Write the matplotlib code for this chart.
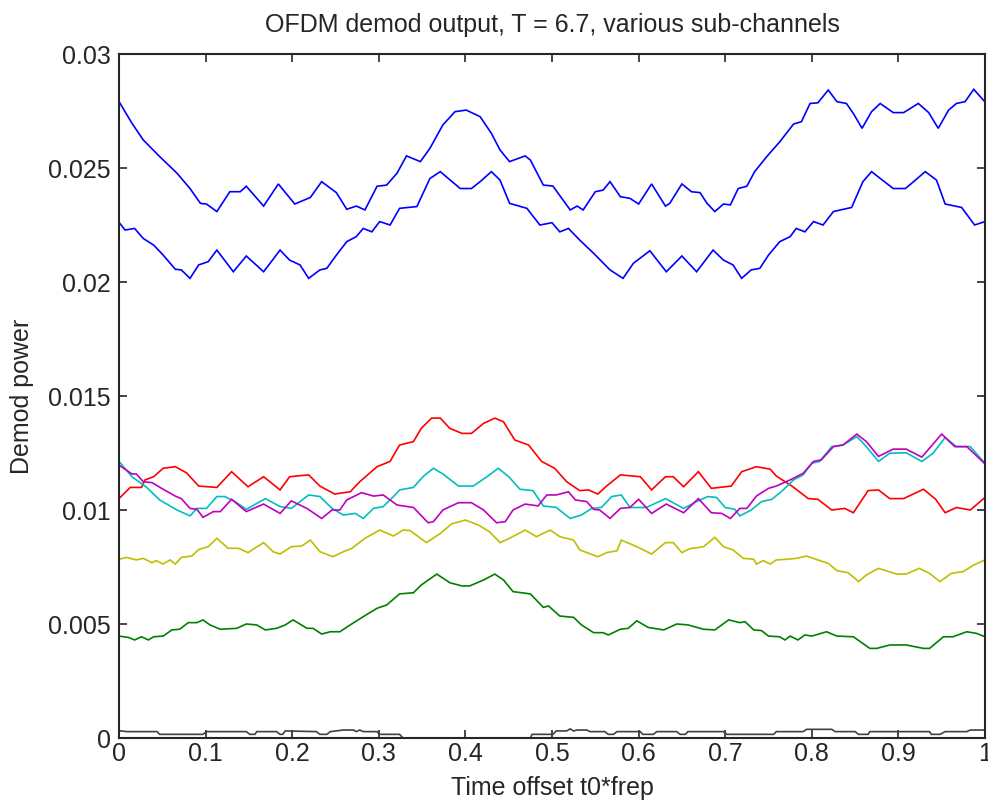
import matplotlib
matplotlib.use("Agg")
import matplotlib.pyplot as plt

plt.rcParams['font.family'] = ['Liberation Sans', 'DejaVu Sans']

title = "OFDM demod output, T = 6.7, various sub-channels"
xlabel = "Time offset t0*frep"
ylabel = "Demod power"
xticks = [0, 0.1, 0.2, 0.3, 0.4, 0.5, 0.6, 0.7, 0.8, 0.9, 1.0]
xticklabels = ["0", "0.1", "0.2", "0.3", "0.4", "0.5", "0.6", "0.7", "0.8", "0.9", "1"]
yticks = [0, 0.005, 0.01, 0.015, 0.02, 0.025, 0.03]
yticklabels = ["0", "0.005", "0.01", "0.015", "0.02", "0.025", "0.03"]

blue1_x = [0.001,0.015,0.028,0.047,0.067,0.082,0.094,0.101,0.113,0.128,0.140,0.147,0.167,0.184,0.203,0.221,0.234,0.251,0.263,0.274,0.284,0.298,0.309,0.321,0.332,0.348,0.359,0.374,0.388,0.401,0.417,0.430,0.440,0.451,0.469,0.475,0.490,0.501,0.521,0.529,0.536,0.550,0.559,0.567,0.579,0.590,0.600,0.615,0.631,0.636,0.650,0.661,0.671,0.679,0.688,0.698,0.706,0.715,0.725,0.734,0.748,0.763,0.779,0.788,0.798,0.807,0.819,0.829,0.840,0.848,0.858,0.869,0.879,0.894,0.906,0.923,0.935,0.946,0.958,0.967,0.977,0.987,1.0]
blue1_y = [0.02785,0.02696,0.02623,0.0255,0.02477,0.0241,0.02345,0.02342,0.02309,0.02396,0.02396,0.0242,0.02333,0.0243,0.02342,0.02371,0.0244,0.02392,0.02319,0.02333,0.02316,0.0242,0.02425,0.02477,0.02553,0.02528,0.02586,0.02689,0.02747,0.02754,0.02725,0.02652,0.02579,0.02528,0.02553,0.02535,0.02425,0.02421,0.02316,0.02333,0.02316,0.02396,0.02403,0.0244,0.02374,0.02367,0.02342,0.0243,0.02333,0.02345,0.0243,0.02396,0.02392,0.02345,0.02309,0.02342,0.02338,0.0241,0.0242,0.02484,0.0255,0.02615,0.02693,0.02703,0.02783,0.02786,0.02842,0.02791,0.02783,0.02739,0.02674,0.02747,0.02783,0.02743,0.02743,0.02783,0.02743,0.02674,0.02754,0.02783,0.02791,0.02845,0.0279]

blue2_x = [0.001,0.007,0.018,0.028,0.040,0.051,0.065,0.072,0.082,0.092,0.103,0.113,0.132,0.147,0.167,0.186,0.197,0.209,0.219,0.232,0.240,0.251,0.263,0.274,0.282,0.292,0.301,0.313,0.324,0.344,0.359,0.371,0.394,0.407,0.417,0.430,0.440,0.451,0.471,0.486,0.500,0.509,0.519,0.532,0.548,0.567,0.582,0.594,0.613,0.632,0.650,0.667,0.686,0.698,0.709,0.719,0.730,0.740,0.750,0.763,0.775,0.782,0.792,0.802,0.813,0.825,0.846,0.859,0.869,0.894,0.908,0.915,0.931,0.944,0.954,0.973,0.988,1.0]
blue2_y = [0.02257,0.02228,0.02235,0.02191,0.02162,0.02118,0.02056,0.02053,0.02016,0.02075,0.02089,0.0214,0.02045,0.02114,0.02045,0.0214,0.02096,0.02075,0.02016,0.02053,0.0206,0.02118,0.02177,0.02199,0.02235,0.0222,0.02265,0.0225,0.02323,0.02331,0.02454,0.02484,0.0241,0.0241,0.0244,0.02484,0.02447,0.02345,0.02323,0.0225,0.0226,0.0222,0.02235,0.02184,0.02126,0.02053,0.02016,0.02082,0.02137,0.02045,0.02114,0.02045,0.0214,0.02096,0.02075,0.02016,0.02053,0.0206,0.02118,0.02177,0.02199,0.02235,0.0222,0.02265,0.0225,0.02309,0.02327,0.0244,0.02484,0.0241,0.0241,0.02432,0.02484,0.02447,0.02342,0.02327,0.0225,0.02265]

red_x = [0.0,0.013,0.026,0.030,0.040,0.051,0.065,0.078,0.092,0.113,0.130,0.149,0.167,0.186,0.197,0.219,0.232,0.249,0.267,0.278,0.298,0.313,0.324,0.340,0.349,0.361,0.371,0.382,0.396,0.407,0.421,0.434,0.444,0.457,0.473,0.488,0.503,0.517,0.532,0.542,0.553,0.563,0.579,0.602,0.615,0.631,0.640,0.652,0.669,0.684,0.707,0.719,0.736,0.752,0.759,0.777,0.796,0.807,0.823,0.838,0.848,0.865,0.877,0.890,0.906,0.929,0.943,0.954,0.967,0.983,1.0]
red_y = [0.0105,0.01099,0.01099,0.01132,0.01146,0.01183,0.0119,0.01163,0.01105,0.01099,0.01168,0.01102,0.01146,0.01088,0.01146,0.01154,0.01105,0.0107,0.0108,0.01124,0.0119,0.01213,0.01285,0.013,0.01358,0.01403,0.01403,0.01358,0.01336,0.01336,0.0138,0.01403,0.01387,0.01307,0.01285,0.01213,0.01183,0.01124,0.01085,0.01088,0.0107,0.01105,0.01154,0.01146,0.01088,0.01146,0.01146,0.01102,0.01168,0.01095,0.01105,0.01168,0.0119,0.01179,0.01149,0.01105,0.0105,0.01047,0.01,0.01007,0.00988,0.01085,0.01088,0.0105,0.0105,0.01091,0.01047,0.00988,0.01011,0.01,0.01055]

cyan_x = [0.0,0.015,0.032,0.047,0.067,0.082,0.090,0.101,0.113,0.122,0.134,0.147,0.169,0.186,0.199,0.219,0.232,0.246,0.259,0.273,0.282,0.294,0.305,0.317,0.324,0.340,0.351,0.363,0.374,0.392,0.409,0.425,0.438,0.450,0.463,0.478,0.490,0.505,0.521,0.534,0.546,0.557,0.569,0.580,0.590,0.609,0.631,0.652,0.667,0.680,0.690,0.700,0.711,0.717,0.730,0.742,0.754,0.767,0.779,0.790,0.800,0.809,0.823,0.836,0.852,0.863,0.877,0.890,0.909,0.927,0.940,0.954,0.967,0.983,1.0]
cyan_y = [0.01213,0.01146,0.01099,0.01044,0.01,0.00974,0.01007,0.01007,0.01059,0.01059,0.01037,0.01003,0.0105,0.01015,0.01007,0.01066,0.01059,0.01007,0.00978,0.00985,0.00963,0.01007,0.01015,0.01059,0.01088,0.01099,0.01146,0.01183,0.01158,0.01105,0.01105,0.01146,0.01183,0.01146,0.01091,0.01085,0.01018,0.01011,0.00963,0.00978,0.01007,0.01011,0.01059,0.01066,0.01011,0.01011,0.0105,0.01007,0.01037,0.01059,0.01055,0.01011,0.01003,0.00974,0.01,0.01037,0.01047,0.01088,0.01132,0.01154,0.01205,0.01213,0.01278,0.01285,0.01322,0.01278,0.01213,0.01249,0.01251,0.01213,0.01249,0.01318,0.01278,0.01278,0.01205]

magenta_x = [0.0,0.015,0.020,0.028,0.038,0.051,0.065,0.072,0.082,0.090,0.097,0.109,0.117,0.130,0.147,0.167,0.186,0.199,0.217,0.234,0.246,0.255,0.263,0.280,0.294,0.305,0.321,0.340,0.357,0.363,0.374,0.392,0.407,0.421,0.436,0.446,0.455,0.469,0.484,0.494,0.505,0.519,0.527,0.540,0.548,0.555,0.567,0.579,0.590,0.600,0.615,0.632,0.652,0.669,0.684,0.696,0.706,0.717,0.725,0.736,0.750,0.759,0.775,0.790,0.802,0.811,0.825,0.836,0.852,0.863,0.877,0.894,0.909,0.927,0.950,0.965,0.979,1.0]
magenta_y = [0.01197,0.01158,0.01158,0.01124,0.0112,0.01091,0.01061,0.0105,0.01007,0.01003,0.00968,0.00993,0.00993,0.01047,0.00993,0.01026,0.00985,0.0104,0.01007,0.00963,0.01,0.01,0.01044,0.01076,0.01061,0.01066,0.01022,0.01011,0.00944,0.00949,0.01,0.01032,0.01032,0.01,0.00944,0.00949,0.01,0.01026,0.01018,0.01066,0.01066,0.0108,0.01044,0.01037,0.01003,0.01,0.00963,0.01007,0.01011,0.01047,0.00985,0.01026,0.00988,0.0105,0.00988,0.00985,0.00963,0.01007,0.01007,0.01061,0.01095,0.01105,0.01132,0.01161,0.01213,0.0122,0.01278,0.01285,0.01333,0.013,0.01235,0.01267,0.01267,0.01232,0.01333,0.01278,0.01278,0.01202]

yellow_x = [0.0,0.009,0.020,0.028,0.038,0.043,0.051,0.059,0.065,0.072,0.084,0.092,0.103,0.113,0.126,0.138,0.149,0.167,0.178,0.186,0.199,0.211,0.221,0.232,0.247,0.259,0.269,0.284,0.301,0.317,0.328,0.336,0.355,0.371,0.384,0.400,0.415,0.428,0.440,0.451,0.469,0.482,0.498,0.509,0.525,0.532,0.553,0.563,0.575,0.580,0.598,0.615,0.631,0.640,0.650,0.659,0.675,0.688,0.698,0.709,0.721,0.733,0.736,0.744,0.752,0.759,0.771,0.782,0.794,0.807,0.819,0.829,0.842,0.854,0.863,0.877,0.898,0.909,0.924,0.936,0.948,0.961,0.975,0.987,1.0]
yellow_y = [0.00784,0.00792,0.00781,0.00788,0.00769,0.00778,0.00763,0.00781,0.00763,0.00792,0.00798,0.00827,0.00839,0.00876,0.00832,0.00832,0.00813,0.00857,0.00817,0.00807,0.00839,0.00842,0.00868,0.00817,0.00795,0.00817,0.00832,0.00876,0.00912,0.00886,0.00912,0.0091,0.00857,0.00897,0.00939,0.00956,0.00934,0.00904,0.00857,0.00876,0.00912,0.00883,0.00912,0.00883,0.00868,0.00825,0.00795,0.00813,0.00821,0.00868,0.00839,0.00807,0.00857,0.00857,0.00813,0.0083,0.00839,0.0088,0.00839,0.00825,0.00788,0.00784,0.00763,0.00778,0.00763,0.00781,0.00784,0.00788,0.00798,0.00781,0.00766,0.00734,0.00725,0.00686,0.00715,0.00744,0.00719,0.00719,0.00744,0.00722,0.00686,0.00722,0.0073,0.00759,0.00781]

green_x = [0.0,0.011,0.018,0.026,0.034,0.040,0.051,0.061,0.070,0.080,0.090,0.097,0.105,0.117,0.136,0.147,0.159,0.169,0.182,0.192,0.201,0.217,0.224,0.234,0.244,0.255,0.267,0.282,0.298,0.309,0.324,0.340,0.349,0.367,0.382,0.396,0.405,0.421,0.434,0.444,0.455,0.475,0.490,0.496,0.509,0.525,0.534,0.548,0.559,0.565,0.579,0.588,0.598,0.611,0.629,0.644,0.657,0.675,0.688,0.704,0.717,0.723,0.733,0.742,0.750,0.763,0.769,0.775,0.784,0.792,0.800,0.817,0.829,0.848,0.867,0.875,0.890,0.909,0.929,0.936,0.952,0.963,0.979,0.990,1.0]
green_y = [0.00447,0.00441,0.0043,0.00444,0.0043,0.00444,0.00447,0.00474,0.00477,0.00506,0.00506,0.00518,0.00496,0.00477,0.00481,0.005,0.00496,0.00474,0.00481,0.00496,0.00518,0.00481,0.00481,0.00456,0.00466,0.00466,0.00496,0.00532,0.00569,0.00583,0.00632,0.00637,0.00671,0.00719,0.00681,0.00667,0.00667,0.00693,0.00719,0.00693,0.00642,0.00632,0.00573,0.00579,0.00535,0.00529,0.00496,0.00462,0.00462,0.00452,0.00477,0.00481,0.00514,0.00485,0.00474,0.005,0.00496,0.00477,0.00474,0.00518,0.00506,0.0051,0.00474,0.00471,0.00447,0.00444,0.0043,0.00447,0.0043,0.00452,0.00447,0.00466,0.00447,0.00444,0.00393,0.00393,0.00408,0.00408,0.00393,0.00393,0.00444,0.00444,0.00466,0.00459,0.00444]

gray_x = [0.0,0.009,0.044,0.047,0.097,0.101,0.147,0.151,0.157,0.159,0.182,0.186,0.189,0.192,0.228,0.232,0.240,0.244,0.259,0.271,0.274,0.278,0.282,0.298,0.301,0.324,0.328,0.475,0.477,0.501,0.505,0.517,0.521,0.525,0.529,0.540,0.544,0.561,0.565,0.571,0.575,0.602,0.605,0.617,0.621,0.644,0.648,0.654,0.657,0.698,0.702,0.756,0.759,0.790,0.794,0.823,0.827,0.850,0.854,0.865,0.867,0.936,0.938,0.948,0.954,0.979,0.983,1.0]
gray_y = [0.00032,0.00028,0.00028,0.00016,0.00016,0.00028,0.00028,0.00016,0.00016,0.00028,0.00028,0.00016,0.00016,0.00031,0.00028,0.00016,0.00016,0.00028,0.00035,0.00035,0.00028,0.00035,0.00028,0.00028,0.00016,0.00016,0.0,0.0,0.00016,0.00016,0.00031,0.00031,0.0004,0.00031,0.00035,0.00035,0.00028,0.00028,0.00016,0.00016,0.00028,0.00028,0.00016,0.00016,0.00028,0.00028,0.00016,0.00016,0.00028,0.00028,0.00016,0.00016,0.00028,0.00028,0.00038,0.00038,0.00028,0.00028,0.00016,0.00016,0.00028,0.00028,0.00016,0.00016,0.00028,0.00028,0.00035,0.00035]

series = [
    (blue1_x, blue1_y, (0, 0, 1)),
    (green_x, green_y, (0, 0.5, 0)),
    (red_x, red_y, (1, 0, 0)),
    (cyan_x, cyan_y, (0, 0.75, 0.75)),
    (magenta_x, magenta_y, (0.75, 0, 0.75)),
    (yellow_x, yellow_y, (0.75, 0.75, 0)),
    (gray_x, gray_y, (0.25, 0.25, 0.25)),
    (blue2_x, blue2_y, (0, 0, 1)),
]

W, H = 988, 809
fig = plt.figure(figsize=(W / 100, H / 100), dpi=100)
ax = fig.add_axes([119 / W, (H - 738) / H, (985 - 119) / W, (738 - 54) / H])

for xs, ys, c in series:
    ax.plot(xs, ys, color=c, linewidth=1.2, solid_joinstyle='miter')

ax.set_xlim(0, 1)
ax.set_ylim(0, 0.03)
ax.set_xticks(xticks)
ax.set_xticklabels(xticklabels)
ax.set_yticks(yticks)
ax.set_yticklabels(yticklabels)

txtc = '#262626'
ax.tick_params(direction='in', length=5.5, width=1.2, top=True, right=True,
               labelsize=18, colors=txtc)
ax.tick_params(axis='x', pad=3)
ax.tick_params(axis='y', pad=6)
for s in ax.spines.values():
    s.set_linewidth(1.5)
    s.set_color(txtc)

ax.set_title(title, fontsize=18, color=txtc, pad=16)
ax.set_xlabel(xlabel, fontsize=18, color=txtc)
ax.xaxis.set_label_coords(0.5, -0.056)
ax.set_ylabel(ylabel, fontsize=18, color=txtc, va='center')
ax.yaxis.set_label_coords(-0.112, 0.5)

fig.savefig("out.png", dpi=100)
